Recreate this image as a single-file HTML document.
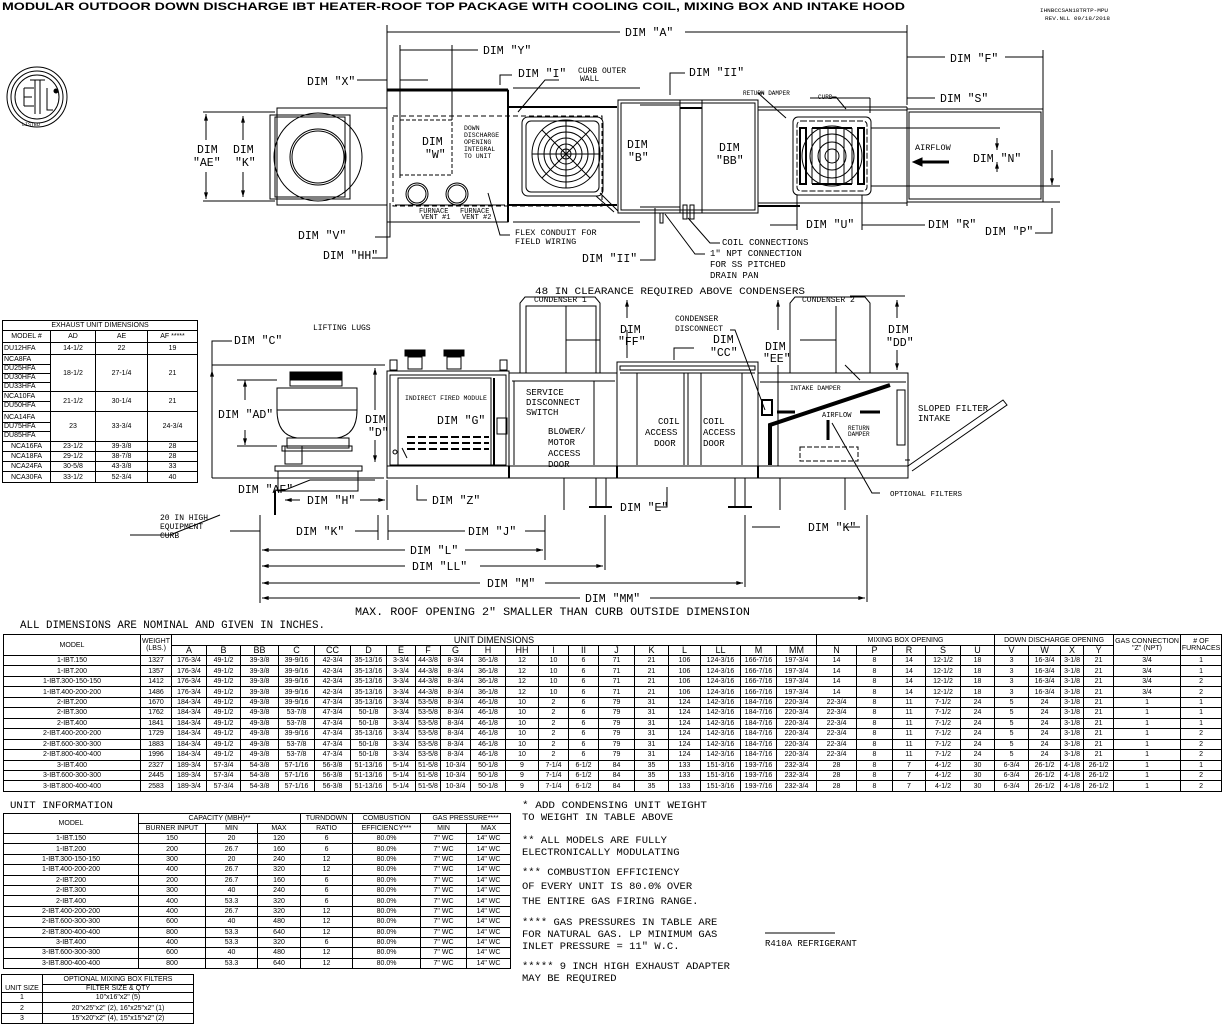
<!DOCTYPE html>
<html><head><meta charset="utf-8"><style>
body{margin:0;background:#fff;width:1223px;height:1024px;overflow:hidden;position:relative;font-family:"Liberation Sans",sans-serif}
svg{position:absolute;left:0;top:0}
table{position:absolute;border-collapse:collapse;table-layout:fixed;font-family:"Liberation Sans",sans-serif;font-size:7px;line-height:7px;color:#000}
td{border:1px solid #000;padding:0;text-align:center;overflow:hidden;white-space:nowrap}
.mt tr{height:10.46px}
.ui tr{height:10.4px}
.m div{border-bottom:1px solid #000;height:8px;line-height:8px;text-align:left;padding-left:1px}
.m div:last-child{border-bottom:none}
</style></head><body>
<svg width="1223" height="1024" viewBox="0 0 1223 1024" font-family="Liberation Mono, monospace" font-size="11.5">
<defs>
<marker id="a" viewBox="0 0 10 6" refX="10" refY="3" markerWidth="8" markerHeight="4" orient="auto-start-reverse"><path d="M0,0L10,3L0,6z" fill="#000"/></marker>
</defs>
<g fill="#000">
<text x="2" y="10" font-family="Liberation Sans" font-weight="bold" font-size="11" textLength="903" lengthAdjust="spacingAndGlyphs">MODULAR OUTDOOR DOWN DISCHARGE IBT HEATER-ROOF TOP PACKAGE WITH COOLING COIL, MIXING BOX AND INTAKE HOOD</text>
<text x="1040" y="12" font-size="5" textLength="68" lengthAdjust="spacingAndGlyphs">IHNBCCSAN18TRTP-MPU</text>
<text x="1045" y="20" font-size="5" textLength="65" lengthAdjust="spacingAndGlyphs">REV.NLL 09/18/2018</text>
</g>
<!-- ETL logo -->
<g fill="none" stroke="#000">
<circle cx="37" cy="97" r="30"/><circle cx="37" cy="97" r="26"/><circle cx="37" cy="97" r="22"/>
<path d="M24,88h10M24,97h8M24,106h10M24,88v18M35,80v34M40,80v34M30,80h15M47,88v22h6"/>
<circle cx="56" cy="91" r="2" fill="#000"/>
</g>
<text x="22" y="126" font-size="5">LISTED</text>

<g fill="none" stroke="#000" stroke-width="1">
<!-- TOP VIEW -->
<!-- exhaust -->
<rect x="277" y="108" width="110" height="97"/>
<rect x="270" y="115" width="80" height="84"/>
<rect x="275" y="117" width="70" height="80"/>
<circle cx="318" cy="157" r="44"/><circle cx="318" cy="157" r="28"/><circle cx="318" cy="157" r="26"/>
<line x1="203" y1="112" x2="275" y2="112"/><line x1="203" y1="201" x2="275" y2="201"/>
<line x1="206" y1="140" x2="206" y2="114" marker-end="url(#a)"/><line x1="206" y1="172" x2="206" y2="199" marker-end="url(#a)"/>
<line x1="243" y1="140" x2="243" y2="116" marker-end="url(#a)"/><line x1="243" y1="172" x2="243" y2="197" marker-end="url(#a)"/>
<!-- heater module -->
<rect x="387" y="90" width="121" height="132"/>
<line x1="387" y1="90" x2="508" y2="90" stroke-width="3"/>
<line x1="508" y1="90" x2="508" y2="222" stroke-width="2"/>
<rect x="393" y="116" width="209" height="90" stroke-dasharray="5,3"/>
<rect x="400" y="120" width="52" height="55" stroke-dasharray="4,2"/>
<circle cx="417" cy="194" r="11"/><circle cx="417" cy="194" r="9"/>
<circle cx="457" cy="194" r="11"/><circle cx="457" cy="194" r="9"/>
<line x1="395" y1="205" x2="505" y2="205"/>
<!-- curb strip -->
<line x1="508" y1="107" x2="617" y2="107" stroke-width="2"/><line x1="508" y1="205" x2="617" y2="205" stroke-width="2"/>
<line x1="513" y1="88" x2="640" y2="88"/><line x1="513" y1="222" x2="640" y2="222"/>
<!-- fan -->
<rect x="522" y="117" width="81" height="79" rx="6"/>
<rect x="526" y="121" width="73" height="71" rx="5"/>
<circle cx="566" cy="154" r="34"/><circle cx="566" cy="154" r="28"/><circle cx="566" cy="154" r="22"/><circle cx="566" cy="154" r="16"/><circle cx="566" cy="154" r="10"/><circle cx="566" cy="154" r="5"/>
<path d="M532,154h68M566,120v68M542,130l48,48M590,130l-48,48"/>
<path d="M600,193l18,18M596,196l18,16"/>
<!-- coil module -->
<rect x="618" y="100" width="140" height="113"/>
<rect x="621" y="103" width="134" height="107"/>
<line x1="680" y1="100" x2="680" y2="213"/><line x1="702" y1="100" x2="702" y2="213"/>
<line x1="680" y1="108" x2="702" y2="108" stroke-width="2"/>
<line x1="640" y1="105" x2="680" y2="105"/><line x1="640" y1="207" x2="680" y2="207"/>
<rect x="683" y="205" width="4" height="14"/><rect x="690" y="205" width="4" height="14"/><rect x="660" y="213" width="3" height="10"/>
<!-- strip to mixing -->
<line x1="758" y1="107" x2="907" y2="107"/><line x1="758" y1="110" x2="907" y2="110"/>
<line x1="758" y1="203" x2="907" y2="203"/><line x1="758" y1="206" x2="800" y2="206" stroke-width="2"/>
<line x1="907" y1="107" x2="907" y2="206"/>
<!-- damper -->
<rect x="793" y="117" width="78" height="78" rx="5"/><rect x="797" y="121" width="70" height="70" rx="4" stroke-dasharray="6,2"/>
<circle cx="832" cy="156" r="30"/><circle cx="832" cy="156" r="22"/><circle cx="832" cy="156" r="14"/><circle cx="832" cy="156" r="7"/>
<rect x="800" y="128" width="6" height="56" stroke-width="2"/><rect x="858" y="128" width="6" height="56" stroke-width="2"/>
<path d="M812,128v56M820,128v56M828,128v56M836,128v56M844,128v56M852,128v56"/>
<path d="M812,128h40M812,184h40" stroke-width="2"/>
<!-- hood -->
<rect x="907" y="109" width="136" height="93"/><rect x="909" y="112" width="132" height="87"/>
<line x1="871" y1="128" x2="1000" y2="128"/><line x1="871" y1="186" x2="1060" y2="186"/>
<line x1="1043" y1="202" x2="1060" y2="202"/>
<line x1="917" y1="162" x2="949" y2="162" stroke-width="3"/>
<path d="M913,162l9,-4v8z" fill="#000"/>
<line x1="997" y1="138" x2="997" y2="150" marker-end="url(#a)"/><line x1="997" y1="172" x2="997" y2="162" marker-end="url(#a)"/>
<line x1="1052" y1="150" x2="1052" y2="185" marker-end="url(#a)"/>
<!-- top dims -->
<line x1="387" y1="25" x2="387" y2="90"/><line x1="907" y1="25" x2="907" y2="105"/>
<line x1="387" y1="32" x2="620" y2="32"/><line x1="685" y1="32" x2="907" y2="32"/>
<line x1="400" y1="45" x2="400" y2="178"/><line x1="452" y1="45" x2="452" y2="120"/>
<line x1="400" y1="50" x2="478" y2="50"/>
<line x1="357" y1="80" x2="387" y2="80"/><line x1="400" y1="80" x2="428" y2="80"/>
<path d="M500,85v-10h12"/><path d="M670,95v-22h15"/>
<line x1="907" y1="57" x2="945" y2="57"/><line x1="1005" y1="57" x2="1043" y2="57"/><line x1="1043" y1="50" x2="1043" y2="110"/>
<line x1="907" y1="98" x2="935" y2="98"/>
<path d="M559,80h-14l-27,32"/>
<path d="M764,93h-6l28,25"/><path d="M832,97h4l10,12"/>
<line x1="810" y1="98" x2="870" y2="98"/><line x1="870" y1="98" x2="870" y2="113"/>
<line x1="190" y1="156" x2="190" y2="156"/>
<!-- bottom dims top view -->
<path d="M375,237h15v-34"/><path d="M372,258h15v-36"/>
<path d="M510,235h-10l-12,-42"/><path d="M640,260h15v-52"/>
<path d="M720,243h-10l-22,-25"/><path d="M705,254h-10l-30,-40"/>
<line x1="770" y1="225" x2="797" y2="225"/><line x1="862" y1="225" x2="925" y2="225"/>
<line x1="797" y1="195" x2="797" y2="230"/><line x1="862" y1="195" x2="862" y2="230"/>
<path d="M1035,233h17v-25"/>

<!-- SIDE VIEW -->
<!-- condensers -->
<path d="M520,373v-70l5,-6h70l5,6v70"/>
<path d="M790,373v-70l5,-6h70l5,6v70"/>
<rect x="526" y="306" width="70" height="67" fill="url(#none)"/>
<line x1="566" y1="306" x2="566" y2="373"/><line x1="566" y1="340" x2="600" y2="340"/>
<line x1="836" y1="306" x2="836" y2="373"/><line x1="800" y1="340" x2="836" y2="340"/>
<!-- heater module -->
<rect x="387" y="371" width="122" height="107"/>
<rect x="390" y="375" width="116" height="90"/>
<rect x="398" y="378" width="93" height="87"/>
<line x1="494" y1="378" x2="494" y2="465" stroke-width="2"/>
<rect x="390" y="360" width="7" height="10"/><rect x="500" y="360" width="7" height="10"/>
<rect x="405" y="350" width="20" height="6" fill="#000"/><rect x="444" y="350" width="20" height="6" fill="#000"/>
<rect x="408" y="357" width="14" height="12"/><rect x="447" y="357" width="14" height="12"/>
<g stroke-width="2" stroke-dasharray="8,3"><line x1="407" y1="437" x2="489" y2="437"/><line x1="407" y1="443" x2="489" y2="443"/><line x1="407" y1="449" x2="489" y2="449"/></g>
<rect x="497" y="418" width="10" height="16"/>
<circle cx="395" cy="452" r="2"/>
<!-- blower module -->
<rect x="509" y="373" width="108" height="105"/>
<line x1="512" y1="381" x2="615" y2="381"/><line x1="514" y1="381" x2="514" y2="465"/><line x1="594" y1="381" x2="594" y2="465"/>
<!-- coil module -->
<rect x="617" y="362" width="141" height="116"/>
<rect x="620" y="366" width="135" height="4"/>
<line x1="620" y1="373" x2="755" y2="373"/>
<line x1="637" y1="373" x2="637" y2="465"/><line x1="684" y1="373" x2="684" y2="465"/><line x1="688" y1="373" x2="688" y2="465"/><line x1="701" y1="373" x2="701" y2="465"/><line x1="742" y1="373" x2="742" y2="465"/>
<!-- mixing box -->
<rect x="758" y="373" width="150" height="105"/>
<line x1="760" y1="382" x2="906" y2="382"/>
<rect x="762" y="400" width="10" height="15" stroke-width="2"/>
<rect x="897" y="390" width="8" height="55"/>
<path d="M770,465v-40l120,-40" stroke-width="4"/>
<rect x="800" y="447" width="58" height="14" stroke-dasharray="5,2"/>
<line x1="795" y1="412" x2="777" y2="412" stroke-width="3"/>
<line x1="880" y1="412" x2="860" y2="412" stroke-width="3"/>
<line x1="828" y1="440" x2="828" y2="420" stroke-width="3"/>
<path d="M860,380l-15,-15" />
<!-- base -->
<rect x="387" y="466" width="521" height="12"/>
<line x1="509" y1="466" x2="509" y2="478" stroke-width="2"/><line x1="617" y1="466" x2="617" y2="478" stroke-width="2"/><line x1="758" y1="466" x2="758" y2="478" stroke-width="2"/>
<!-- legs -->
<line x1="596" y1="478" x2="596" y2="507"/><line x1="606" y1="478" x2="606" y2="507"/><line x1="589" y1="507" x2="612" y2="507" stroke-width="2"/>
<line x1="735" y1="478" x2="735" y2="507"/><line x1="745" y1="478" x2="745" y2="507"/><line x1="728" y1="507" x2="752" y2="507" stroke-width="2"/>
<line x1="564" y1="478" x2="564" y2="510"/><line x1="780" y1="478" x2="780" y2="510"/><line x1="845" y1="478" x2="845" y2="510"/>
<!-- sloped intake -->
<path d="M908,466l95,-66l4,5l-95,66"/>
<!-- exhaust fan side -->
<path d="M290,372h52v8h-52z" fill="#000"/>
<rect x="290" y="380" width="52" height="6"/>
<path d="M277,388h80v22q0,25,-20,28h-40q-20,-3,-20,-28z"/>
<line x1="277" y1="410" x2="357" y2="410"/>
<rect x="287" y="438" width="62" height="10"/>
<rect x="282" y="446" width="70" height="5"/>
<rect x="285" y="446" width="17" height="18"/>
<rect x="275" y="466" width="87" height="5"/>
<rect x="278" y="471" width="80" height="20"/>
<line x1="275" y1="491" x2="275" y2="515" stroke-width="2"/>
<!-- side dims -->
<line x1="212" y1="365" x2="385" y2="365"/><path d="M232,341h-20v137"/>
<line x1="212" y1="370" x2="212" y2="376" marker-start="url(#a)"/>
<line x1="245" y1="380" x2="245" y2="400" marker-start="url(#a)"/><line x1="245" y1="430" x2="245" y2="445" marker-end="url(#a)"/>
<line x1="237" y1="380" x2="277" y2="380"/><line x1="237" y1="446" x2="277" y2="446"/>
<line x1="375" y1="368" x2="375" y2="410" marker-start="url(#a)"/><line x1="375" y1="440" x2="375" y2="462" marker-end="url(#a)"/>
<line x1="212" y1="478" x2="384" y2="478"/>
<path d="M275,490h10l25,-10h65"/>
<line x1="285" y1="500" x2="300" y2="500" marker-start="url(#a)"/><line x1="360" y1="500" x2="385" y2="500" marker-end="url(#a)"/>
<line x1="387" y1="480" x2="387" y2="510"/>
<path d="M427,500h-10v-15"/><path d="M407,458l-5,-10"/>
<path d="M657,507h10v-20"/>
<path d="M627,330v28M627,345" /><line x1="627" y1="300" x2="627" y2="318" marker-start="url(#a)"/>
<line x1="778" y1="300" x2="778" y2="330" marker-start="url(#a)"/><line x1="778" y1="365" x2="778" y2="466"/>
<line x1="897" y1="300" x2="897" y2="318" marker-start="url(#a)"/><line x1="897" y1="350" x2="897" y2="370" marker-end="url(#a)"/>
<line x1="850" y1="296" x2="905" y2="296"/>
<path d="M674,360v-12h20"/>
<path d="M730,330h5l30,80"/>
<path d="M880,493h-8l-40,-70"/>
<path d="M905,460l5,0"/>
<path d="M130,535h40l50,-20"/>
<line x1="752" y1="527" x2="780" y2="527"/><line x1="845" y1="527" x2="860" y2="527"/>
<!-- bottom dimension lines -->
<line x1="260" y1="515" x2="260" y2="603"/>
<line x1="230" y1="531" x2="260" y2="531"/><line x1="355" y1="531" x2="378" y2="531"/>
<line x1="378" y1="515" x2="378" y2="540"/><line x1="388" y1="515" x2="388" y2="540"/>
<line x1="388" y1="531" x2="465" y2="531"/><line x1="525" y1="531" x2="545" y2="531"/>
<line x1="545" y1="515" x2="545" y2="560"/>
<line x1="262" y1="550" x2="405" y2="550" marker-start="url(#a)"/><line x1="465" y1="550" x2="543" y2="550" marker-end="url(#a)"/>
<line x1="605" y1="515" x2="605" y2="570"/>
<line x1="262" y1="566" x2="405" y2="566" marker-start="url(#a)"/><line x1="480" y1="566" x2="603" y2="566" marker-end="url(#a)"/>
<line x1="745" y1="515" x2="745" y2="587"/>
<line x1="262" y1="583" x2="480" y2="583" marker-start="url(#a)"/><line x1="545" y1="583" x2="743" y2="583" marker-end="url(#a)"/>
<line x1="262" y1="598" x2="580" y2="598" marker-start="url(#a)"/><line x1="650" y1="598" x2="865" y2="598" marker-end="url(#a)"/>
<line x1="867" y1="515" x2="867" y2="602"/>
<!-- R410A line -->
<line x1="765" y1="933" x2="835" y2="933"/>
</g>

<g fill="#000">
<!-- top view labels -->
<text x="625" y="36">DIM "A"</text>
<text x="483" y="54">DIM "Y"</text>
<text x="307" y="85">DIM "X"</text>
<text x="518" y="77">DIM "I"</text>
<text x="578" y="73" font-size="8">CURB OUTER</text><text x="580" y="81" font-size="8">WALL</text>
<text x="689" y="76">DIM "II"</text>
<text x="950" y="62">DIM "F"</text>
<text x="940" y="102">DIM "S"</text>
<text x="743" y="95" font-size="6">RETURN DAMPER</text><text x="818" y="99" font-size="6">CURB</text>
<text x="197" y="153">DIM</text><text x="193" y="166">"AE"</text>
<text x="233" y="153">DIM</text><text x="235" y="166">"K"</text>
<text x="422" y="145">DIM</text><text x="425" y="158">"W"</text>
<g font-size="6.5"><text x="464" y="130">DOWN</text><text x="464" y="137">DISCHARGE</text><text x="464" y="144">OPENING</text><text x="464" y="151">INTEGRAL</text><text x="464" y="158">TO UNIT</text></g>
<text x="627" y="148">DIM</text><text x="628" y="161">"B"</text>
<text x="719" y="151">DIM</text><text x="716" y="164">"BB"</text>
<text x="915" y="150" font-size="8.5">AIRFLOW</text>
<text x="973" y="162">DIM "N"</text>
<g font-size="7"><text x="419" y="213">FURNACE</text><text x="421" y="219">VENT #1</text><text x="460" y="213">FURNACE</text><text x="462" y="219">VENT #2</text></g>
<text x="298" y="239">DIM "V"</text>
<text x="323" y="259">DIM "HH"</text>
<text x="515" y="235" font-size="8.5">FLEX CONDUIT FOR</text><text x="515" y="244" font-size="8.5">FIELD WIRING</text>
<text x="582" y="262">DIM "II"</text>
<g font-size="9"><text x="722" y="245">COIL CONNECTIONS</text><text x="710" y="256">1" NPT CONNECTION</text><text x="710" y="267">FOR SS PITCHED</text><text x="710" y="278">DRAIN PAN</text></g>
<text x="806" y="228">DIM "U"</text>
<text x="928" y="228">DIM "R"</text>
<text x="985" y="235">DIM "P"</text>

<!-- side labels -->
<text x="535" y="294" font-size="10" textLength="270" lengthAdjust="spacingAndGlyphs">48 IN CLEARANCE REQUIRED ABOVE CONDENSERS</text>
<text x="534" y="302" font-size="8">CONDENSER 1</text><text x="802" y="302" font-size="8">CONDENSER 2</text>
<text x="234" y="344">DIM "C"</text>
<text x="313" y="330" font-size="8">LIFTING LUGS</text>
<text x="218" y="418">DIM "AD"</text>
<text x="365" y="423">DIM</text><text x="368" y="436">"D"</text>
<text x="405" y="400" font-size="6.5">INDIRECT FIRED MODULE</text>
<text x="437" y="424">DIM "G"</text>
<g font-size="9"><text x="526" y="395">SERVICE</text><text x="526" y="405">DISCONNECT</text><text x="526" y="415">SWITCH</text>
<text x="548" y="434">BLOWER/</text><text x="548" y="445">MOTOR</text><text x="548" y="456">ACCESS</text><text x="548" y="467">DOOR</text>
<text x="658" y="424">COIL</text><text x="645" y="435">ACCESS</text><text x="654" y="446">DOOR</text>
<text x="703" y="424">COIL</text><text x="703" y="435">ACCESS</text><text x="703" y="446">DOOR</text>
<text x="675" y="321" font-size="8">CONDENSER</text><text x="675" y="331" font-size="8">DISCONNECT</text></g>
<text x="620" y="333">DIM</text><text x="618" y="345">"FF"</text>
<text x="713" y="343">DIM</text><text x="710" y="356">"CC"</text>
<text x="765" y="350">DIM</text><text x="763" y="362">"EE"</text>
<text x="888" y="333">DIM</text><text x="886" y="346">"DD"</text>
<text x="790" y="390" font-size="6.5">INTAKE DAMPER</text>
<text x="822" y="417" font-size="7">AIRFLOW</text>
<text x="848" y="430" font-size="6">RETURN</text><text x="848" y="436" font-size="6">DAMPER</text>
<text x="918" y="411" font-size="9">SLOPED FILTER</text><text x="918" y="421" font-size="9">INTAKE</text>
<text x="890" y="496" font-size="7.5">OPTIONAL FILTERS</text>
<text x="238" y="493">DIM "AF"</text>
<text x="307" y="504">DIM "H"</text>
<text x="432" y="504">DIM "Z"</text>
<text x="620" y="511">DIM "E"</text>
<text x="808" y="531">DIM "K"</text>
<g font-size="8"><text x="160" y="520">20 IN HIGH</text><text x="160" y="529">EQUIPMENT</text><text x="160" y="538">CURB</text></g>
<text x="296" y="535">DIM "K"</text>
<text x="468" y="535">DIM "J"</text>
<text x="410" y="554">DIM "L"</text>
<text x="412" y="570">DIM "LL"</text>
<text x="487" y="587">DIM "M"</text>
<text x="585" y="602">DIM "MM"</text>
<text x="355" y="615" font-size="11" textLength="395" lengthAdjust="spacingAndGlyphs">MAX. ROOF OPENING 2" SMALLER THAN CURB OUTSIDE DIMENSION</text>
<text x="20" y="628" font-size="11" textLength="305" lengthAdjust="spacingAndGlyphs">ALL DIMENSIONS ARE NOMINAL AND GIVEN IN INCHES.</text>
<text x="10" y="808" font-size="10.5" textLength="103" lengthAdjust="spacingAndGlyphs">UNIT INFORMATION</text>

<!-- notes -->
<g font-size="10.5">
<text x="522" y="808" textLength="185" lengthAdjust="spacingAndGlyphs">* ADD CONDENSING UNIT WEIGHT</text>
<text x="522" y="820">TO WEIGHT IN TABLE ABOVE</text>
<text x="522" y="843">** ALL MODELS ARE FULLY</text>
<text x="522" y="855"> ELECTRONICALLY MODULATING</text>
<text x="522" y="875">*** COMBUSTION EFFICIENCY</text>
<text x="522" y="889">OF EVERY UNIT IS 80.0% OVER</text>
<text x="522" y="904">THE ENTIRE GAS FIRING RANGE.</text>
<text x="522" y="925">**** GAS PRESSURES IN TABLE ARE</text>
<text x="522" y="937">FOR NATURAL GAS. LP MINIMUM GAS</text>
<text x="522" y="949">INLET PRESSURE = 11" W.C.</text>
<text x="522" y="969">***** 9 INCH HIGH EXHAUST ADAPTER</text>
<text x="522" y="981">MAY BE REQUIRED</text>
<text x="765" y="946" font-size="9">R410A REFRIGERANT</text>
</g>
</g>
</svg>

<!-- Exhaust table -->
<table style="left:2px;top:320px;width:195px">
<colgroup><col style="width:48px"><col style="width:45px"><col style="width:52px"><col style="width:50px"></colgroup>
<tr style="height:10px"><td colspan="4">EXHAUST UNIT DIMENSIONS</td></tr>
<tr style="height:12px"><td>MODEL #</td><td>AD</td><td>AE</td><td>AF *****</td></tr>
<tr style="height:12px"><td class="m"><div>DU12HFA</div></td><td>14-1/2</td><td>22</td><td>19</td></tr>
<tr style="height:37px"><td class="m"><div>NCA8FA</div><div>DU25HFA</div><div>DU30HFA</div><div>DU33HFA</div></td><td>18-1/2</td><td>27-1/4</td><td>21</td></tr>
<tr style="height:20px"><td class="m"><div>NCA10FA</div><div>DU50HFA</div></td><td>21-1/2</td><td>30-1/4</td><td>21</td></tr>
<tr style="height:30px"><td class="m"><div>NCA14FA</div><div>DU75HFA</div><div>DU85HFA</div></td><td>23</td><td>33-3/4</td><td>24-3/4</td></tr>
<tr style="height:10px"><td>NCA16FA</td><td>23-1/2</td><td>39-3/8</td><td>28</td></tr>
<tr style="height:10px"><td>NCA18FA</td><td>29-1/2</td><td>38-7/8</td><td>28</td></tr>
<tr style="height:10px"><td>NCA24FA</td><td>30-5/8</td><td>43-3/8</td><td>33</td></tr>
<tr style="height:11px"><td>NCA30FA</td><td>33-1/2</td><td>52-3/4</td><td>40</td></tr>
</table>

<!-- Main table -->
<table class="mt" style="left:3px;top:634px;width:1218px">
<colgroup><col style="width:137px"><col style="width:31px"><col style="width:35px"><col style="width:34px"><col style="width:38px"><col style="width:36px"><col style="width:36px"><col style="width:36px"><col style="width:29px"><col style="width:25px"><col style="width:30px"><col style="width:35px"><col style="width:33px"><col style="width:30px"><col style="width:30px"><col style="width:36px"><col style="width:34px"><col style="width:32px"><col style="width:40px"><col style="width:36px"><col style="width:40px"><col style="width:40px"><col style="width:36px"><col style="width:33px"><col style="width:35px"><col style="width:34px"><col style="width:34px"><col style="width:32px"><col style="width:23px"><col style="width:30px"><col style="width:67px"><col style="width:41px"></colgroup>
<tr style="height:11px"><td rowspan="2">MODEL</td><td rowspan="2">WEIGHT<br>(LBS.)</td><td colspan="19" style="font-size:9px">UNIT DIMENSIONS</td><td colspan="5">MIXING BOX OPENING</td><td colspan="4">DOWN DISCHARGE OPENING</td><td rowspan="2">GAS CONNECTION<br>"Z" (NPT)</td><td rowspan="2"># OF<br>FURNACES</td></tr>
<tr style="height:10px;font-size:9px"><td>A</td><td>B</td><td>BB</td><td>C</td><td>CC</td><td>D</td><td>E</td><td>F</td><td>G</td><td>H</td><td>HH</td><td>I</td><td>II</td><td>J</td><td>K</td><td>L</td><td>LL</td><td>M</td><td>MM</td><td>N</td><td>P</td><td>R</td><td>S</td><td>U</td><td>V</td><td>W</td><td>X</td><td>Y</td></tr>
<tr><td>1-IBT.150</td><td>1327</td><td>176-3/4</td><td>49-1/2</td><td>39-3/8</td><td>39-9/16</td><td>42-3/4</td><td>35-13/16</td><td>3-3/4</td><td>44-3/8</td><td>8-3/4</td><td>36-1/8</td><td>12</td><td>10</td><td>6</td><td>71</td><td>21</td><td>106</td><td>124-3/16</td><td>166-7/16</td><td>197-3/4</td><td>14</td><td>8</td><td>14</td><td>12-1/2</td><td>18</td><td>3</td><td>16-3/4</td><td>3-1/8</td><td>21</td><td>3/4</td><td>1</td></tr>
<tr><td>1-IBT.200</td><td>1357</td><td>176-3/4</td><td>49-1/2</td><td>39-3/8</td><td>39-9/16</td><td>42-3/4</td><td>35-13/16</td><td>3-3/4</td><td>44-3/8</td><td>8-3/4</td><td>36-1/8</td><td>12</td><td>10</td><td>6</td><td>71</td><td>21</td><td>106</td><td>124-3/16</td><td>166-7/16</td><td>197-3/4</td><td>14</td><td>8</td><td>14</td><td>12-1/2</td><td>18</td><td>3</td><td>16-3/4</td><td>3-1/8</td><td>21</td><td>3/4</td><td>1</td></tr>
<tr><td>1-IBT.300-150-150</td><td>1412</td><td>176-3/4</td><td>49-1/2</td><td>39-3/8</td><td>39-9/16</td><td>42-3/4</td><td>35-13/16</td><td>3-3/4</td><td>44-3/8</td><td>8-3/4</td><td>36-1/8</td><td>12</td><td>10</td><td>6</td><td>71</td><td>21</td><td>106</td><td>124-3/16</td><td>166-7/16</td><td>197-3/4</td><td>14</td><td>8</td><td>14</td><td>12-1/2</td><td>18</td><td>3</td><td>16-3/4</td><td>3-1/8</td><td>21</td><td>3/4</td><td>2</td></tr>
<tr><td>1-IBT.400-200-200</td><td>1486</td><td>176-3/4</td><td>49-1/2</td><td>39-3/8</td><td>39-9/16</td><td>42-3/4</td><td>35-13/16</td><td>3-3/4</td><td>44-3/8</td><td>8-3/4</td><td>36-1/8</td><td>12</td><td>10</td><td>6</td><td>71</td><td>21</td><td>106</td><td>124-3/16</td><td>166-7/16</td><td>197-3/4</td><td>14</td><td>8</td><td>14</td><td>12-1/2</td><td>18</td><td>3</td><td>16-3/4</td><td>3-1/8</td><td>21</td><td>3/4</td><td>2</td></tr>
<tr><td>2-IBT.200</td><td>1670</td><td>184-3/4</td><td>49-1/2</td><td>49-3/8</td><td>39-9/16</td><td>47-3/4</td><td>35-13/16</td><td>3-3/4</td><td>53-5/8</td><td>8-3/4</td><td>46-1/8</td><td>10</td><td>2</td><td>6</td><td>79</td><td>31</td><td>124</td><td>142-3/16</td><td>184-7/16</td><td>220-3/4</td><td>22-3/4</td><td>8</td><td>11</td><td>7-1/2</td><td>24</td><td>5</td><td>24</td><td>3-1/8</td><td>21</td><td>1</td><td>1</td></tr>
<tr><td>2-IBT.300</td><td>1762</td><td>184-3/4</td><td>49-1/2</td><td>49-3/8</td><td>53-7/8</td><td>47-3/4</td><td>50-1/8</td><td>3-3/4</td><td>53-5/8</td><td>8-3/4</td><td>46-1/8</td><td>10</td><td>2</td><td>6</td><td>79</td><td>31</td><td>124</td><td>142-3/16</td><td>184-7/16</td><td>220-3/4</td><td>22-3/4</td><td>8</td><td>11</td><td>7-1/2</td><td>24</td><td>5</td><td>24</td><td>3-1/8</td><td>21</td><td>1</td><td>1</td></tr>
<tr><td>2-IBT.400</td><td>1841</td><td>184-3/4</td><td>49-1/2</td><td>49-3/8</td><td>53-7/8</td><td>47-3/4</td><td>50-1/8</td><td>3-3/4</td><td>53-5/8</td><td>8-3/4</td><td>46-1/8</td><td>10</td><td>2</td><td>6</td><td>79</td><td>31</td><td>124</td><td>142-3/16</td><td>184-7/16</td><td>220-3/4</td><td>22-3/4</td><td>8</td><td>11</td><td>7-1/2</td><td>24</td><td>5</td><td>24</td><td>3-1/8</td><td>21</td><td>1</td><td>1</td></tr>
<tr><td>2-IBT.400-200-200</td><td>1729</td><td>184-3/4</td><td>49-1/2</td><td>49-3/8</td><td>39-9/16</td><td>47-3/4</td><td>35-13/16</td><td>3-3/4</td><td>53-5/8</td><td>8-3/4</td><td>46-1/8</td><td>10</td><td>2</td><td>6</td><td>79</td><td>31</td><td>124</td><td>142-3/16</td><td>184-7/16</td><td>220-3/4</td><td>22-3/4</td><td>8</td><td>11</td><td>7-1/2</td><td>24</td><td>5</td><td>24</td><td>3-1/8</td><td>21</td><td>1</td><td>2</td></tr>
<tr><td>2-IBT.600-300-300</td><td>1883</td><td>184-3/4</td><td>49-1/2</td><td>49-3/8</td><td>53-7/8</td><td>47-3/4</td><td>50-1/8</td><td>3-3/4</td><td>53-5/8</td><td>8-3/4</td><td>46-1/8</td><td>10</td><td>2</td><td>6</td><td>79</td><td>31</td><td>124</td><td>142-3/16</td><td>184-7/16</td><td>220-3/4</td><td>22-3/4</td><td>8</td><td>11</td><td>7-1/2</td><td>24</td><td>5</td><td>24</td><td>3-1/8</td><td>21</td><td>1</td><td>2</td></tr>
<tr><td>2-IBT.800-400-400</td><td>1996</td><td>184-3/4</td><td>49-1/2</td><td>49-3/8</td><td>53-7/8</td><td>47-3/4</td><td>50-1/8</td><td>3-3/4</td><td>53-5/8</td><td>8-3/4</td><td>46-1/8</td><td>10</td><td>2</td><td>6</td><td>79</td><td>31</td><td>124</td><td>142-3/16</td><td>184-7/16</td><td>220-3/4</td><td>22-3/4</td><td>8</td><td>11</td><td>7-1/2</td><td>24</td><td>5</td><td>24</td><td>3-1/8</td><td>21</td><td>1</td><td>2</td></tr>
<tr><td>3-IBT.400</td><td>2327</td><td>189-3/4</td><td>57-3/4</td><td>54-3/8</td><td>57-1/16</td><td>56-3/8</td><td>51-13/16</td><td>5-1/4</td><td>51-5/8</td><td>10-3/4</td><td>50-1/8</td><td>9</td><td>7-1/4</td><td>6-1/2</td><td>84</td><td>35</td><td>133</td><td>151-3/16</td><td>193-7/16</td><td>232-3/4</td><td>28</td><td>8</td><td>7</td><td>4-1/2</td><td>30</td><td>6-3/4</td><td>26-1/2</td><td>4-1/8</td><td>26-1/2</td><td>1</td><td>1</td></tr>
<tr><td>3-IBT.600-300-300</td><td>2445</td><td>189-3/4</td><td>57-3/4</td><td>54-3/8</td><td>57-1/16</td><td>56-3/8</td><td>51-13/16</td><td>5-1/4</td><td>51-5/8</td><td>10-3/4</td><td>50-1/8</td><td>9</td><td>7-1/4</td><td>6-1/2</td><td>84</td><td>35</td><td>133</td><td>151-3/16</td><td>193-7/16</td><td>232-3/4</td><td>28</td><td>8</td><td>7</td><td>4-1/2</td><td>30</td><td>6-3/4</td><td>26-1/2</td><td>4-1/8</td><td>26-1/2</td><td>1</td><td>2</td></tr>
<tr><td>3-IBT.800-400-400</td><td>2583</td><td>189-3/4</td><td>57-3/4</td><td>54-3/8</td><td>57-1/16</td><td>56-3/8</td><td>51-13/16</td><td>5-1/4</td><td>51-5/8</td><td>10-3/4</td><td>50-1/8</td><td>9</td><td>7-1/4</td><td>6-1/2</td><td>84</td><td>35</td><td>133</td><td>151-3/16</td><td>193-7/16</td><td>232-3/4</td><td>28</td><td>8</td><td>7</td><td>4-1/2</td><td>30</td><td>6-3/4</td><td>26-1/2</td><td>4-1/8</td><td>26-1/2</td><td>1</td><td>2</td></tr>
</table>

<!-- Unit info table -->
<table class="ui" style="left:3px;top:813px;width:507px">
<colgroup><col style="width:135px"><col style="width:67px"><col style="width:52px"><col style="width:43px"><col style="width:52px"><col style="width:68px"><col style="width:46px"><col style="width:44px"></colgroup>
<tr style="height:10px"><td rowspan="2">MODEL</td><td colspan="3">CAPACITY (MBH)**</td><td>TURNDOWN</td><td>COMBUSTION</td><td colspan="2">GAS PRESSURE****</td></tr>
<tr style="height:10px"><td>BURNER INPUT</td><td>MIN</td><td>MAX</td><td>RATIO</td><td>EFFICIENCY***</td><td>MIN</td><td>MAX</td></tr>
<tr><td>1-IBT.150</td><td>150</td><td>20</td><td>120</td><td>6</td><td>80.0%</td><td>7" WC</td><td>14" WC</td></tr>
<tr><td>1-IBT.200</td><td>200</td><td>26.7</td><td>160</td><td>6</td><td>80.0%</td><td>7" WC</td><td>14" WC</td></tr>
<tr><td>1-IBT.300-150-150</td><td>300</td><td>20</td><td>240</td><td>12</td><td>80.0%</td><td>7" WC</td><td>14" WC</td></tr>
<tr><td>1-IBT.400-200-200</td><td>400</td><td>26.7</td><td>320</td><td>12</td><td>80.0%</td><td>7" WC</td><td>14" WC</td></tr>
<tr><td>2-IBT.200</td><td>200</td><td>26.7</td><td>160</td><td>6</td><td>80.0%</td><td>7" WC</td><td>14" WC</td></tr>
<tr><td>2-IBT.300</td><td>300</td><td>40</td><td>240</td><td>6</td><td>80.0%</td><td>7" WC</td><td>14" WC</td></tr>
<tr><td>2-IBT.400</td><td>400</td><td>53.3</td><td>320</td><td>6</td><td>80.0%</td><td>7" WC</td><td>14" WC</td></tr>
<tr><td>2-IBT.400-200-200</td><td>400</td><td>26.7</td><td>320</td><td>12</td><td>80.0%</td><td>7" WC</td><td>14" WC</td></tr>
<tr><td>2-IBT.600-300-300</td><td>600</td><td>40</td><td>480</td><td>12</td><td>80.0%</td><td>7" WC</td><td>14" WC</td></tr>
<tr><td>2-IBT.800-400-400</td><td>800</td><td>53.3</td><td>640</td><td>12</td><td>80.0%</td><td>7" WC</td><td>14" WC</td></tr>
<tr><td>3-IBT.400</td><td>400</td><td>53.3</td><td>320</td><td>6</td><td>80.0%</td><td>7" WC</td><td>14" WC</td></tr>
<tr><td>3-IBT.600-300-300</td><td>600</td><td>40</td><td>480</td><td>12</td><td>80.0%</td><td>7" WC</td><td>14" WC</td></tr>
<tr><td>3-IBT.800-400-400</td><td>800</td><td>53.3</td><td>640</td><td>12</td><td>80.0%</td><td>7" WC</td><td>14" WC</td></tr>
</table>

<!-- Filter table -->
<table style="left:1px;top:974px;width:192px">
<colgroup><col style="width:41px"><col style="width:151px"></colgroup>
<tr style="height:10px"><td style="border-bottom:none"></td><td>OPTIONAL MIXING BOX FILTERS</td></tr>
<tr style="height:8px"><td style="border-top:none">UNIT SIZE</td><td>FILTER SIZE &amp; QTY</td></tr>
<tr style="height:10px"><td>1</td><td>10"x16"x2" (5)</td></tr>
<tr style="height:11px"><td>2</td><td>20"x25"x2" (2), 16"x25"x2" (1)</td></tr>
<tr style="height:10px"><td>3</td><td>15"x20"x2" (4), 15"x15"x2" (2)</td></tr>
</table>
</body></html>
